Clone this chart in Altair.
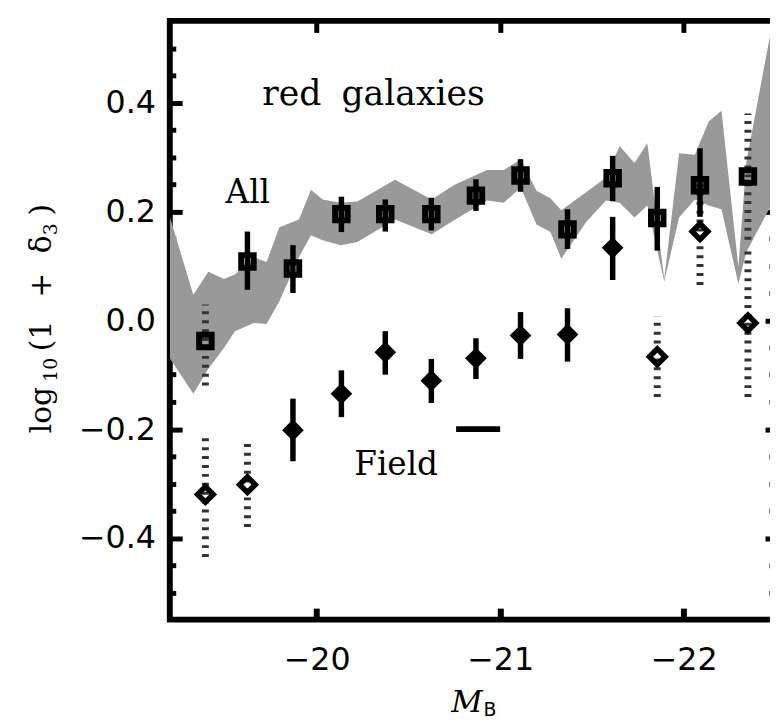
import altair as alt
import pandas as pd

# ---------------- data ----------------
mag = [-19.394, -19.623, -19.871, -20.135, -20.374, -20.625, -20.868,
       -21.111, -21.367, -21.613, -21.856, -22.089, -22.350]

# "All" (squares)
all_y = [-0.038, 0.108, 0.095, 0.195, 0.195, 0.195, 0.229, 0.266, 0.167, 0.261, 0.188, 0.248, 0.264]
all_lo = [-0.120, 0.056, 0.050, 0.162, 0.163, 0.165, 0.201, 0.236, 0.131, 0.219, 0.128, 0.190, 0.148]
all_hi = [0.029, 0.163, 0.138, 0.227, 0.222, 0.225, 0.259, 0.296, 0.204, 0.302, 0.245, 0.316, 0.380]
all_dotted = [True, False, False, False, False, False, False, False, False, False, False, False, True]

# "Field" (diamonds)
field_y = [-0.320, -0.302, -0.202, -0.135, -0.059, -0.111, -0.070, -0.028, -0.026, 0.133, -0.067, 0.163, -0.005]
field_lo = [-0.435, -0.380, -0.259, -0.178, -0.100, -0.152, -0.108, -0.071, -0.076, 0.074, -0.141, 0.065, -0.141]
field_hi = [-0.214, -0.225, -0.144, -0.092, -0.020, -0.071, -0.033, 0.015, 0.022, 0.190, 0.007, 0.255, 0.130]
field_open = [True, True, False, False, False, False, False, False, False, False, True, True, True]

# grey band
band_mag = [-19.2, -19.328, -19.41, -19.495, -19.555, -19.657, -19.727, -19.797, -19.904,
            -19.969, -20.033, -20.131, -20.222, -20.427, -20.627, -20.751, -20.929, -21.02,
            -21.112, -21.198, -21.274, -21.333, -21.468, -21.576, -21.651, -21.732, -21.802,
            -21.894, -21.975, -22.061, -22.136, -22.206, -22.298, -22.341, -22.465, -22.5]
band_lo = [-0.07, -0.135, -0.089, -0.051, -0.02, -0.005, -0.007, 0.035, 0.116,
           0.156, 0.147, 0.138, 0.144, 0.185, 0.158, 0.184, 0.22, 0.216,
           0.244, 0.176, 0.162, 0.113, 0.18, 0.22, 0.216, 0.189, 0.211,
           0.071, 0.189, 0.222, 0.211, 0.204, 0.067, 0.125, 0.204, 0.22]
band_hi = [0.19, 0.047, 0.089, 0.076, 0.084, 0.116, 0.107, 0.171, 0.185,
           0.24, 0.222, 0.216, 0.218, 0.258, 0.222, 0.249, 0.276, 0.276,
           0.296, 0.238, 0.224, 0.202, 0.235, 0.262, 0.32, 0.289, 0.325,
           0.076, 0.307, 0.304, 0.365, 0.385, 0.098, 0.29, 0.513, 0.56]

# field reference dash
dash_mag = [-20.76, -21.0]
dash_y = [-0.2]

# annotations
ann_text = ["red", "galaxies", "All", "Field"]
ann_mag = [-19.704, -20.135, -19.504, -20.205]
ann_y = [0.396, 0.396, 0.216, -0.284]
ann_size = [35, 35, 33, 33]

x_major = [-20, -21, -22]
y_major = [-0.4, -0.2, 0.0, 0.2, 0.4]
y_minor = [-0.5, -0.45, -0.35, -0.3, -0.25, -0.15, -0.1, -0.05,
           0.05, 0.1, 0.15, 0.25, 0.3, 0.35, 0.45, 0.5]

# y-axis title pieces (read bottom to top) and whether they are subscripts
ytitle_parts = ["log", "10", "(1", "+", "δ", "3", ")"]
ytitle_sub = [False, True, False, False, False, True, False]

# ---------------- tables ----------------
df_all = pd.DataFrame(dict(mag=mag, y=all_y, lo=all_lo, hi=all_hi, dotted=all_dotted))
df_field = pd.DataFrame(dict(mag=mag, y=field_y, lo=field_lo, hi=field_hi, open=field_open))
df_band = pd.DataFrame(dict(mag=band_mag, lo=band_lo, hi=band_hi))
df_dash = pd.DataFrame(dict(m1=[dash_mag[0]], m2=[dash_mag[1]], y=dash_y))
df_ann = pd.DataFrame(dict(text=ann_text, mag=ann_mag, y=ann_y, size=ann_size))

# ---------------- geometry ----------------
W, H = 612, 605
PAD = {"left": 163.5, "top": 9.3, "right": -5.5, "bottom": 97.7}
PX0, PY0 = 171.5, 17.3   # page position of plot origin

xs = alt.Scale(domain=[-22.5, -19.2], reverse=True, nice=False, zero=False)
ys = alt.Scale(domain=[-0.55, 0.55], nice=False, zero=False)

def X(f="mag", axis=None):
    return alt.X(f"{f}:Q", scale=xs, axis=axis)

def Y(f="y", axis=None):
    return alt.Y(f"{f}:Q", scale=ys, axis=axis)

common_axis = dict(domain=False, grid=False, tickColor="black", tickWidth=5,
                   labelColor="black", labelFont="DejaVu Sans", labelFontSize=32,
                   title=None)

band = alt.Chart(df_band).mark_area(color="#999999", clip=True).encode(
    x=X(), y=Y("lo"), y2="hi:Q")

bars_solid = alt.Chart(df_all[~df_all.dotted]).mark_rule(color="black", strokeWidth=5.5).encode(
    x=X(), y=Y("lo"), y2="hi:Q")
bars_dot = alt.Chart(df_all[df_all.dotted]).mark_rule(color="#333333", strokeWidth=7, strokeDash=[3, 6]).encode(
    x=X(), y=Y("lo"), y2="hi:Q")
fbars_solid = alt.Chart(df_field[~df_field.open]).mark_rule(color="black", strokeWidth=5.5).encode(
    x=X(), y=Y("lo"), y2="hi:Q")
fbars_dot = alt.Chart(df_field[df_field.open]).mark_rule(color="#333333", strokeWidth=7, strokeDash=[3, 6]).encode(
    x=X(), y=Y("lo"), y2="hi:Q")

squares = alt.Chart(df_all).mark_point(shape="square", filled=False, size=160, strokeWidth=6,
                                       color="black", opacity=1).encode(x=X(), y=Y())
dia_fill = alt.Chart(df_field[~df_field.open]).mark_point(shape="diamond", filled=True, size=480,
                                                          color="black", opacity=1).encode(x=X(), y=Y())
dia_open = alt.Chart(df_field[df_field.open]).mark_point(shape="diamond", filled=False, size=250,
                                                         strokeWidth=5.5, color="black", opacity=1).encode(x=X(), y=Y())

dash = alt.Chart(df_dash).mark_rule(color="black", strokeWidth=6).encode(
    x=X("m1"), x2="m2:Q", y=Y())

ann = alt.Chart(df_ann).mark_text(font="DejaVu Serif", align="left",
                                  baseline="alphabetic", color="black").encode(
    x=X(), y=Y(), text="text:N", size=alt.Size("size:Q", scale=None, legend=None))

# y-axis title, built from pieces running upwards (page y where each piece starts)
ypiece_start = [434, 382, 351, 297, 252, 234, 214]
ytitle_layers = []
for txt, sub, ystart in zip(ytitle_parts, ytitle_sub, ypiece_start):
    ytitle_layers.append(
        alt.Chart(pd.DataFrame({"t": [txt]})).mark_text(
            font="DejaVu Serif", fontSize=19 if sub else 30, angle=270, align="left",
            baseline="alphabetic", color="black"
        ).encode(text="t:N", x=alt.value((58 if sub else 51) - PX0), y=alt.value(ystart - PY0))
    )

xtitle_m = alt.Chart(pd.DataFrame({"t": ["M"]})).mark_text(
    font="DejaVu Serif", fontSize=31, fontStyle="italic", align="right", baseline="alphabetic", color="black"
).encode(text="t:N", x=alt.value(316), y=alt.value(698.7))
xtitle_b = alt.Chart(pd.DataFrame({"t": ["B"]})).mark_text(
    font="DejaVu Sans", fontSize=19, align="left", baseline="alphabetic", color="black"
).encode(text="t:N", x=alt.value(317), y=alt.value(702.5))

# axes layers (ticks drawn inward by negative offsets)
axA = alt.Chart(df_all).mark_point(opacity=0).encode(
    x=X(axis=alt.Axis(orient="bottom", values=x_major, offset=-11.6, tickSize=11.6, tickWidth=6,
                      labelPadding=25, format="d", **{k: v for k, v in common_axis.items() if k != "tickWidth"})),
    y=Y(axis=alt.Axis(orient="left", values=y_major, offset=-12.5, tickSize=12.5,
                      labelPadding=14.5, format=".1f", **common_axis)))
axB = alt.Chart(df_all).mark_point(opacity=0).encode(
    x=X(axis=alt.Axis(orient="top", values=x_major, offset=-11.6, tickSize=11.6, labels=False,
                      **common_axis)),
    y=Y(axis=alt.Axis(orient="left", values=y_minor, offset=-6, tickSize=6, labels=False,
                      **common_axis)))
axC = alt.Chart(df_all).mark_point(opacity=0).encode(
    x=X(),
    y=Y(axis=alt.Axis(orient="right", values=y_major, offset=-10.5, tickSize=10.5, labels=False,
                      **common_axis)))
axD = alt.Chart(df_all).mark_point(opacity=0).encode(
    x=X(),
    y=Y(axis=alt.Axis(orient="right", values=y_minor, offset=-6.5, tickSize=6.5, labels=False,
                      **common_axis)))

chart = alt.layer(
    band, bars_dot, fbars_dot, bars_solid, fbars_solid, squares, dia_open, dia_fill, dash, ann,
    *ytitle_layers, xtitle_m, xtitle_b, axA, axB, axC, axD
).resolve_axis(x="independent", y="independent").properties(
    width=W, height=H, autosize="none", padding=PAD, background="white"
).configure_view(stroke="black", strokeWidth=6)

chart.save("out.html", embed_options={"renderer": "svg", "actions": False})
